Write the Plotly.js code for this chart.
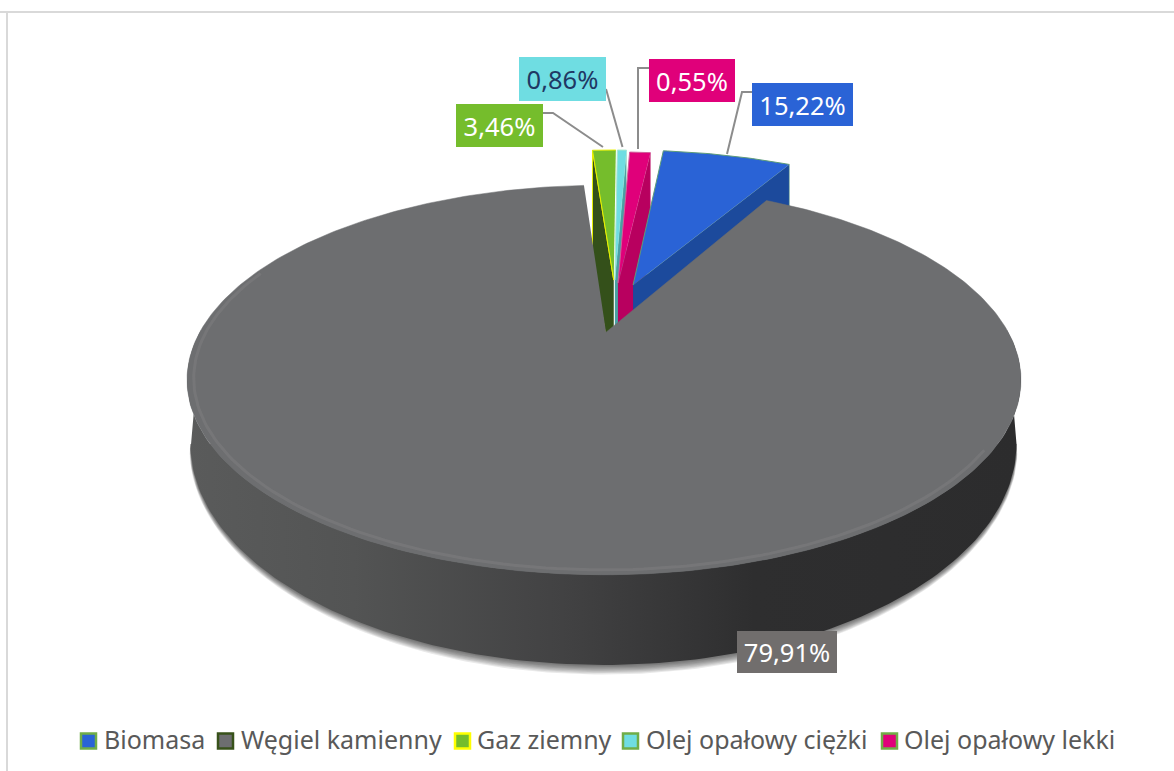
<!DOCTYPE html>
<html><head><meta charset="utf-8">
<script src="https://cdn.plot.ly/plotly-3.0.1.min.js"></script>
<style>html,body{margin:0;padding:0;background:#fff}#c{width:1174px;height:771px}</style>
</head><body><div id="c"></div>
<script>
// ---- data ----
const categories = ['Biomasa','Węgiel kamienny','Gaz ziemny','Olej opałowy ciężki','Olej opałowy lekki'];
const printedLabels = ['15,22%','79,91%','3,46%','0,86%','0,55%'];
const drawnShares = [6.4, 90.8, 1.2, 0.5, 1.1];   // slice sizes as they appear in the picture
const startAngle = 6.5;
const faceColors = ['#2a63d6','#6d6e70','#75bd2c','#6fdde2','#e0007a'];
const wallColors = ['#1c4a9c','#4a4b4c','#34501a','#4aa0a3','#b8005f'];
const edgeColors = ['#5d9c78','#6d6e70','#e8f000','#a8e8d0','#d0609a'];
const swatchLines = ['#70ad47','#38521a','#ffff00','#70ad47','#70ad47'];
const labelFill = ['#2a63d6','#716e6d','#75bd2c','#6fdde2','#e0007a'];
const labelText = ['#ffffff','#ffffff','#ffffff','#1f3864','#ffffff'];
// ---- layout of the scene ----
const explodeU = [0.077,0,0.026,0.029,0.037];
const explodeW = [-0.264,0,-0.295,-0.295,-0.276];
const radius = [1.06,1,1.03,1.03,1.03];
const wallEdge = [1,null,0,1,1];     // radial edge showing a side wall: 0 start, 1 end
const labelBox = [[752,853,83,126],[737,837,631,673],[456,543,104,147],[519,606,57,101],[649,735,59,102]];
const leaders = [[[752,92],[742,92],[727,154]],null,[[543,113],[553,113],[603,147]],[[606,89],[622.5,147]],[[649,68],[638,68],[638,149]]];
const legendX = [88.5,225.5,462.5,630.5,889.5];
const legendTextX = [104,241,477,646,904];
const legendY = 741;
const legendTextY = 743;
const wallDrop = 105;

const D = Math.PI/180;
function proj(u,w){const den=1-0.2565*w;return [604+403*u/den,330+182*w/den];}
function circ(th,i,rs){const r=radius[i]*(rs||1);return proj(explodeU[i]+r*Math.sin(th*D),explodeW[i]-r*Math.cos(th*D));}
function range(a,b,n){const o=[];for(let k=0;k<=n;k++)o.push(a+(b-a)*k/n);return o;}
const total=drawnShares.reduce((a,b)=>a+b,0);
let acc=startAngle;
const spans=drawnShares.map(v=>{const s=[acc,acc+v/total*360];acc=s[1];return s;});

const base={type:'scatter',mode:'lines',hoverinfo:'skip',showlegend:false};
const traces=[];
function poly(pts,color,line,lw,name,extra){traces.push(Object.assign({},base,{name:name,x:pts.map(p=>p[0]),y:pts.map(p=>p[1]),fill:'toself',fillcolor:color,line:{color:line||color,width:lw||0,shape:'linear'}},extra||{}));}

// soft shadow under the disc
const botX=t=>603.5+413*Math.cos(t*D), botY=t=>444+221*Math.sin(t*D);
for(let s=8;s>=1;s--){
  const g=s*1.2;
  const pts=range(0,180,140).map(t=>{const f=Math.sqrt(Math.max(0,Math.sin(t*D)));return [603.5+(413+g*0.6*f)*Math.cos(t*D),444+(221+g*f)*Math.sin(t*D)];});
  poly(pts,'rgba(0,0,0,0.085)',null,0,'shadow');
}
// cylinder wall of the big slice
const wallPts=range(90,270,140).map(t=>circ(t,1)).concat(range(180,0,140).map(t=>[botX(t),botY(t)]));
poly(wallPts,'#3d3d3e','#3d3d3e',0,categories[1]+' wall',{fillgradient:{type:'horizontal',colorscale:[[0,'#5a5b5b'],[0.2,'#535454'],[0.45,'#424243'],[0.68,'#2e2e2f'],[1,'#2c2c2d']]}});
// radial walls of the pulled-out slices
[2,3,4,0].forEach(i=>{
  const th=spans[i][wallEdge[i]];
  const a=proj(explodeU[i],explodeW[i]), b=circ(th,i);
  poly([a,b,[b[0],b[1]+wallDrop],[a[0],a[1]+wallDrop]],wallColors[i],edgeColors[i],i===2?1:0.5,categories[i]+' wall');
});
// big slice face
const facePts=[proj(0.005,0.012)].concat(range(spans[1][0],spans[1][1],360).map(t=>circ(t,1)));
poly(facePts,faceColors[1],faceColors[1],0.5,categories[1]);
// rim highlight
const rim=range(125,290,140).map(t=>circ(t,1,0.985));
traces.push(Object.assign({},base,{name:'rim',x:rim.map(p=>p[0]),y:rim.map(p=>p[1]),line:{color:'rgba(150,150,150,0.22)',width:3}}));
// pulled-out faces
[2,3,4,0].forEach(i=>{
  const pts=[proj(explodeU[i],explodeW[i])].concat(range(spans[i][0],spans[i][1],30).map(t=>circ(t,i)));
  poly(pts,faceColors[i],edgeColors[i],1,categories[i]);
});
// legend entries
categories.forEach((c,i)=>{
  traces.push({type:'scatter',mode:'markers',hoverinfo:'skip',showlegend:false,name:c,x:[legendX[i]],y:[legendY],
    marker:{symbol:'square',size:15,color:faceColors[i],line:{color:swatchLines[i],width:2.5}}});
  traces.push({type:'scatter',mode:'text',hoverinfo:'skip',showlegend:false,name:c,x:[legendTextX[i]],y:[legendTextY],text:[c],textposition:'middle right',
    textfont:{family:'Noto Sans',size:25,color:'#595959'}});
});
// leader lines and labels
const shapes=[
 {type:'line',xref:'paper',yref:'paper',x0:0,x1:1,y0:1-12/771,y1:1-12/771,line:{color:'#d9d9d9',width:2}},
 {type:'line',xref:'paper',yref:'paper',x0:7/1174,x1:7/1174,y0:0,y1:1-12/771,line:{color:'#d9d9d9',width:2}}
];
leaders.forEach(l=>{if(l)shapes.push({type:'path',xref:'x',yref:'y',path:'M'+l.map(p=>p.join(' ')).join(' L'),line:{color:'#8c8c8c',width:2}});});
const annotations=printedLabels.map((t,i)=>{const b=labelBox[i];return {text:t,xref:'x',yref:'y',x:(b[0]+b[1])/2,y:(b[2]+b[3])/2,xanchor:'center',yanchor:'middle',width:b[1]-b[0],height:b[3]-b[2],showarrow:false,bgcolor:labelFill[i],borderpad:0,borderwidth:0,align:'center',valign:'middle',font:{family:'Noto Sans',size:25.5,color:labelText[i]}};});

Plotly.newPlot('c',traces,{
  width:1174,height:771,margin:{l:0,r:0,t:0,b:0},paper_bgcolor:'#fff',plot_bgcolor:'#fff',showlegend:false,
  xaxis:{range:[0,1174],visible:false,fixedrange:true},
  yaxis:{range:[771,0],visible:false,fixedrange:true},
  shapes:shapes,annotations:annotations
},{displayModeBar:false,staticPlot:true});
</script></body></html>
